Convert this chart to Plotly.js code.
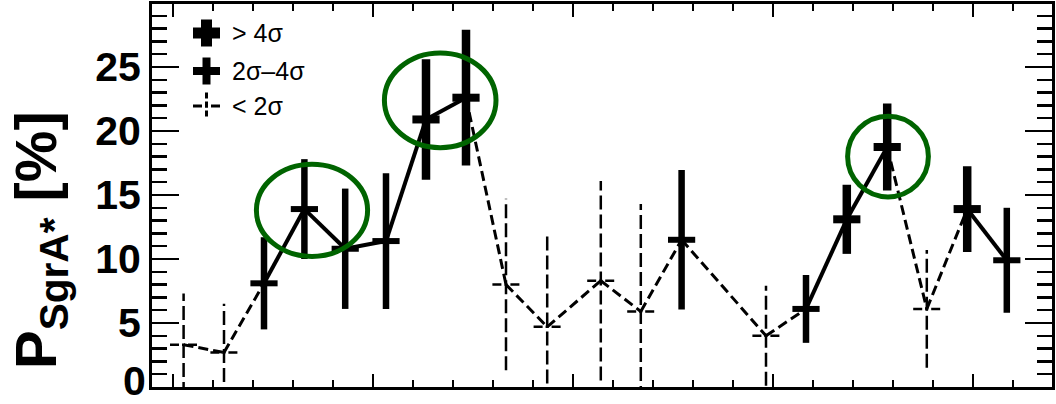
<!DOCTYPE html>
<html><head><meta charset="utf-8">
<script src="https://cdn.plot.ly/plotly-3.0.1.min.js"></script>
<style>body{margin:0;background:#fff}</style>
</head><body><div id="chart" style="width:1056px;height:404px"></div>
<script>
// ---- data ----
const xVals = [0.27, 1.28, 2.28, 3.29, 4.31, 5.33, 6.33, 7.33, 8.33, 9.36, 10.70, 11.70, 12.72, 14.83, 15.83, 16.85, 17.86, 18.85, 19.86, 20.85];
const yVals = [3.3, 2.7, 8.1, 13.9, 10.8, 11.4, 20.9, 22.6, 8.0, 4.7, 8.3, 5.9, 11.5, 4.0, 6.1, 13.1, 18.75, 6.1, 13.9, 9.9];
const yErr  = [4.0, 3.8, 3.6, 3.9, 4.7, 5.3, 4.7, 5.3, 6.7, 7.4, 7.8, 8.4, 5.45, 3.9, 2.65, 2.7, 3.4, 4.6, 3.35, 4.1];
const sigClass = ['lt2','lt2','mid','mid','mid','mid','gt4','gt4','lt2','lt2','lt2','lt2','mid','lt2','mid','gt4','gt4','lt2','gt4','mid'];
const legendLabels = ['&gt; 4σ', '2σ–4σ', '&lt; 2σ'];
const yTickVals = [5, 10, 15, 20, 25];
const yZeroLabel = '0';
const yTitle = '<b>P<sub>SgrA*</sub> [%]</b>';
// highlighted regions (green ellipses), data units
const highlights = [
  {x0: 2.09, x1: 4.87, y0: 10.2, y1: 17.4},
  {x0: 5.29, x1: 8.08, y0: 18.7, y1: 26.1},
  {x0: 16.87, x1: 18.89, y0: 14.85, y1: 21.15}
];

// ---- styling ----
const HALF = 0.34;              // half width of horizontal bar (x units)
const thick = {gt4: 8.5, mid: 6.5};
const hthick = {gt4: 8, mid: 6};
const FONT = 'Liberation Sans, Arial, Helvetica, sans-serif';

const sig = i => sigClass[i] !== 'lt2';
const traces = [];

// connecting lines
const solidX = [], solidY = [], dashX = [], dashY = [];
for (let i = 0; i < xVals.length - 1; i++) {
  const both = sig(i) && sig(i+1);
  const tx = both ? solidX : dashX;
  const ty = both ? solidY : dashY;
  tx.push(xVals[i], xVals[i+1], null);
  ty.push(yVals[i], yVals[i+1], null);
}
traces.push({x: dashX, y: dashY, mode: 'lines', line: {color: 'black', width: 3, dash: '10px,5px'}, hoverinfo: 'skip', showlegend: false});
traces.push({x: solidX, y: solidY, mode: 'lines', line: {color: 'black', width: 4}, hoverinfo: 'skip', showlegend: false});

// < 2 sigma: dashed crosses
const vX = [], vY = [], hX = [], hY = [];
xVals.forEach((x, i) => {
  if (sigClass[i] !== 'lt2') return;
  vX.push(x, x, null); vY.push(yVals[i] - yErr[i], yVals[i] + yErr[i], null);
  hX.push(x - HALF, x + HALF, null); hY.push(yVals[i], yVals[i], null);
});
traces.push({x: vX, y: vY, mode: 'lines', line: {color: 'black', width: 2.5, dash: '14px,5px'}, hoverinfo: 'skip', showlegend: false});
traces.push({x: hX, y: hY, mode: 'lines', line: {color: 'black', width: 2.5, dash: '9px,3px,3px,3px'}, hoverinfo: 'skip', showlegend: false});

// significant points: thick crosses via error bars
['mid', 'gt4'].forEach(cls => {
  const idx = xVals.map((_, i) => i).filter(i => sigClass[i] === cls);
  traces.push({
    x: idx.map(i => xVals[i]), y: idx.map(i => yVals[i]),
    mode: 'markers', marker: {size: 1, opacity: 0},
    error_y: {type: 'data', array: idx.map(i => yErr[i]), visible: true, color: 'black', thickness: thick[cls], width: 0},
    error_x: {type: 'constant', value: HALF, visible: true, color: 'black', thickness: hthick[cls], width: 0},
    hoverinfo: 'skip', showlegend: false
  });
});

// ---- layout helpers: pixel -> paper ----
const L = 152, R = 4, T = 4, B = 17, W = 1056, H = 404;
const pw = W - L - R, ph = H - T - B;
const px = p => (p - L) / pw;
const py = p => (H - B - p) / ph;

const shapes = highlights.map(h => ({
  type: 'circle', xref: 'x', yref: 'y', x0: h.x0, x1: h.x1, y0: h.y0, y1: h.y1,
  line: {color: 'rgb(0,100,0)', width: 5}, layer: 'above'
}));

// legend symbols
const legRows = [33, 71, 106];
const legX = 206.5;
const legW = [11, 8, 3];
legRows.forEach((ry, k) => {
  const lt2 = k === 2;
  shapes.push({type: 'line', xref: 'paper', yref: 'paper', x0: px(legX - 13.5), x1: px(legX + 13.5), y0: py(ry), y1: py(ry),
    line: {color: 'black', width: legW[k], dash: lt2 ? '9px,3px,3px,3px' : 'solid'}});
  shapes.push({type: 'line', xref: 'paper', yref: 'paper', x0: px(legX), x1: px(legX), y0: py(ry - 13.5), y1: py(ry + 13.5),
    line: {color: 'black', width: legW[k], dash: lt2 ? '6px,3px' : 'solid'}});
});

const annotations = legendLabels.map((t, k) => ({
  text: t, xref: 'paper', yref: 'paper', x: px(230), y: py(legRows[k]), xanchor: 'left', yanchor: 'middle',
  showarrow: false, font: {family: FONT, size: 25, color: 'black'}
}));
annotations.push({
  text: yTitle, xref: 'paper', yref: 'paper', x: px(40), y: py(240), xanchor: 'center', yanchor: 'middle',
  textangle: -90, showarrow: false, font: {family: FONT, size: 58, color: 'black'}
});
// zero label sits slightly above the corner, as in the reference
annotations.push({
  text: yZeroLabel, xref: 'paper', yref: 'paper', x: px(148), y: py(381), xanchor: 'right', yanchor: 'middle',
  showarrow: false, font: {family: FONT, size: 41, color: 'black', weight: 'bold'}
});

const axisCommon = {
  showgrid: false, zeroline: false, showline: true, linecolor: 'black', linewidth: 3,
  mirror: 'ticks', ticks: 'inside', tickcolor: 'black', tickwidth: 2.5
};

const layout = {
  width: W, height: H, margin: {l: L, r: R, t: T, b: B},
  paper_bgcolor: 'white', plot_bgcolor: 'white', showlegend: false,
  xaxis: Object.assign({}, axisCommon, {range: [-0.52, 21.98], ticklen: 13, showticklabels: false, tick0: 0, dtick: 5,
    minor: {dtick: 1, tick0: 0, ticklen: 7, tickwidth: 2.5, tickcolor: 'black', ticks: 'inside'}}),
  yaxis: Object.assign({}, axisCommon, {range: [0, 29.92], ticklen: 27, tickmode: 'array', tickvals: yTickVals,
    tickfont: {family: FONT, size: 41, color: 'black', weight: 'bold'},
    minor: {tickmode: 'linear', dtick: 1, tick0: 0, ticklen: 15, tickwidth: 2.5, tickcolor: 'black', ticks: 'inside'}}),
  shapes: shapes, annotations: annotations
};

Plotly.newPlot('chart', traces, layout, {displayModeBar: false, staticPlot: true});
</script>
</body></html>
